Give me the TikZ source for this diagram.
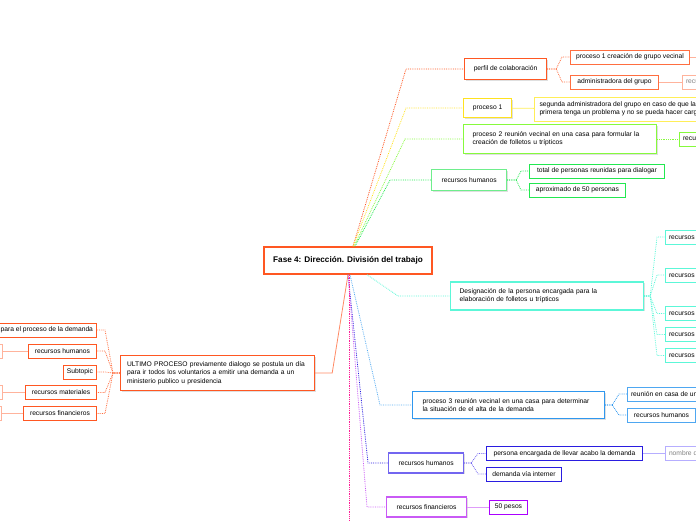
\documentclass[tikz,border=0pt]{standalone}
\usepackage{fontspec}
\setmainfont{Liberation Sans}
\usetikzlibrary{shadows}
\definecolor{faseorange}{HTML}{FF5722}
\definecolor{orangemid}{HTML}{FF6E40}
\definecolor{orangesoft}{HTML}{FF8A65}
\definecolor{orangepale}{HTML}{FFB39C}
\definecolor{procyellow}{HTML}{FFE21F}
\definecolor{yellowpale}{HTML}{FFEE58}
\definecolor{limegreen}{HTML}{86FA3C}
\definecolor{mintgreen}{HTML}{6EEE8C}
\definecolor{brightgreen}{HTML}{22E850}
\definecolor{aqua}{HTML}{5CF7D8}
\definecolor{skyblue}{HTML}{2F97EE}
\definecolor{indigo}{HTML}{7366F0}
\definecolor{deepblue}{HTML}{2A1DE0}
\definecolor{lavender}{HTML}{B6AEFF}
\definecolor{violet}{HTML}{C95AF5}
\definecolor{purpleb}{HTML}{AA00FF}
\definecolor{hotpink}{HTML}{FF1E96}

\begin{document}
\begin{tikzpicture}[x=1pt, y=-1pt,
  topic/.style={draw, fill=white, line width=1.2pt, inner xsep=7pt, inner ysep=2pt, align=left,
    font=\fontsize{6.7}{8.3}\selectfont, drop shadow={shadow xshift=1pt, shadow yshift=-1pt, opacity=0.25}},
  subtopic/.style={draw, fill=white, line width=1pt, inner xsep=3.5pt, inner ysep=2pt, align=left,
    minimum height=14pt, font=\fontsize{6.7}{8.3}\selectfont},
  link/.style={densely dotted, line width=0.8pt},
  plainlink/.style={line width=0.8pt}]

\useasboundingbox (0,0) rectangle (696,520);

% centre
\node[topic, line width=1.4pt, draw=faseorange, align=center, minimum width=168pt, minimum height=27pt,
  font=\bfseries\fontsize{8.2}{10}\selectfont] (fase) at (348,260.5) {Fase 4: Dirección. División del trabajo};

% perfil de colaboracion
\node[topic, draw=faseorange, anchor=west, minimum width=82pt, minimum height=21pt] (perfil) at (464,69) {perfil de colaboración};
\node[subtopic, draw=orangemid, anchor=west, minimum width=119pt] (grupo) at (570,57) {proceso 1 creación de grupo vecinal};
\node[subtopic, draw=orangemid, anchor=west, minimum width=88pt] (admin) at (570,82) {administradora del grupo};
\node[subtopic, draw=orangepale, text=gray, anchor=west] (admrec) at (682,82) {recursos};
\coordinate (grupoend) at (712,57);
\draw[link, faseorange] ([xshift=5pt]fase.north) -- ([xshift=-58pt]perfil.west) -- (perfil.west);
\draw[link, orangemid] (perfil.east) -- ++(9,0) -- ([xshift=-8pt]grupo.west) -- (grupo.west);
\draw[link, orangemid] (perfil.east) -- ++(9,0) -- ([xshift=-8pt]admin.west) -- (admin.west);
\draw[plainlink, orangepale] (admin) -- (admrec);
\draw[plainlink, orangepale] (grupo) -- (grupoend);

% proceso 1
\node[topic, draw=procyellow, anchor=west, minimum width=48pt, minimum height=19pt] (proc1) at (463,108) {proceso 1};
\node[subtopic, draw=yellowpale, anchor=west, minimum height=24pt, inner xsep=5pt] (segunda) at (534,109)
  {segunda administradora del grupo en caso de que la\\primera tenga un problema y no se pueda hacer cargo};
\draw[link, procyellow] ([xshift=5pt]fase.north) -- ([xshift=-57pt]proc1.west) -- (proc1.west);
\draw[plainlink, yellowpale] (proc1) -- (segunda);

% proceso 2
\node[topic, draw=limegreen, anchor=west, text width=175pt, inner xsep=9pt, minimum height=29pt] (proc2) at (463,139)
  {proceso 2 reunión vecinal en una casa para formular la\\creación de folletos u trípticos};
\node[subtopic, draw=limegreen, anchor=west] (proc2rec) at (679,139) {recursos};
\draw[link, limegreen] ([xshift=6pt]fase.north) -- ([xshift=-58pt]proc2.west) -- (proc2.west);
\draw[link, limegreen] (proc2) -- (proc2rec);

% recursos humanos (grupo)
\node[topic, draw=mintgreen, anchor=west, minimum width=75pt, minimum height=21pt] (rhgrupo) at (431,180) {recursos humanos};
\node[subtopic, draw=brightgreen, anchor=west, minimum width=135pt] (total) at (529,171) {total de personas reunidas para dialogar};
\node[subtopic, draw=brightgreen, anchor=west, minimum width=96pt] (aprox) at (529,190) {aproximado de 50 personas};
\draw[link, brightgreen] ([xshift=7pt]fase.north) -- ([xshift=-41pt]rhgrupo.west) -- (rhgrupo.west);
\draw[link, brightgreen] (rhgrupo.east) -- ++(9,0) -- ([xshift=-8pt]total.west) -- (total.west);
\draw[link, brightgreen] (rhgrupo.east) -- ++(9,0) -- ([xshift=-8pt]aprox.west) -- (aprox.west);

% designacion
\node[topic, draw=aqua, anchor=west, text width=175pt, inner xsep=9pt, minimum height=28pt] (designa) at (450,296)
  {Designación de la persona encargada para la\\elaboración de folletos u trípticos};
\foreach \y/\name/\txt in {237/drh/recursos humanos, 275/drm/recursos materiales, 313.5/drf/recursos financieros,
  334.5/drt/recursos técnicos, 355.5/dro/recursos otros}{
  \node[subtopic, draw=aqua, anchor=west] (\name) at (665,\y) {\txt};
  \draw[link, aqua] (designa.east) -- ++(6,0) -- ([xshift=-8pt]\name.west) -- (\name.west);
}
\draw[link, aqua] ([xshift=19pt]fase.south) -- ([xshift=-52pt]designa.west) -- (designa.west);

% proceso 3
\node[topic, draw=skyblue, anchor=west, text width=172pt, inner xsep=10pt, minimum height=27pt] (proc3) at (412,405)
  {proceso 3 reunión vecinal en una casa para determinar\\la situación de el alta de la demanda};
\node[subtopic, draw=skyblue!85, anchor=west] (reunion) at (627,394) {reunión en casa de un vecino};
\node[subtopic, draw=skyblue!85, anchor=west, minimum width=68pt] (rhreunion) at (627,415) {recursos humanos};
\draw[link, skyblue!80] ([xshift=2pt]fase.south) -- ([xshift=-32pt]proc3.west) -- (proc3.west);
\draw[link, skyblue] (proc3.east) -- ++(7,0) -- ([xshift=-8pt]reunion.west) -- (reunion.west);
\draw[link, skyblue] (proc3.east) -- ++(7,0) -- ([xshift=-8pt]rhreunion.west) -- (rhreunion.west);

% recursos humanos (demanda)
\node[topic, draw=indigo, anchor=west, minimum width=75pt, minimum height=20pt] (rhdemanda) at (388,463) {recursos humanos};
\node[subtopic, draw=deepblue, anchor=west, minimum width=156pt] (encargada) at (486,453.5) {persona encargada de llevar acabo la demanda};
\node[subtopic, draw=deepblue, anchor=west, minimum width=75pt] (internet) at (486,474) {demanda vía interner};
\node[subtopic, draw=lavender, text=gray, anchor=west] (nombre) at (665,453.5) {nombre de la persona};
\draw[link, deepblue] (fase.south) -- ([xshift=-20pt]rhdemanda.west) -- (rhdemanda.west);
\draw[link, indigo] (rhdemanda.east) -- ++(7,0) -- ([xshift=-8pt]encargada.west) -- (encargada.west);
\draw[link, indigo] (rhdemanda.east) -- ++(7,0) -- ([xshift=-8pt]internet.west) -- (internet.west);
\draw[plainlink, lavender] (encargada) -- (nombre);

% recursos financieros (demanda)
\node[topic, draw=violet, anchor=west, minimum width=80pt, minimum height=20pt] (rfdemanda) at (386,507) {recursos financieros};
\node[subtopic, draw=purpleb, anchor=west, minimum width=38pt] (pesos) at (489,507) {50 pesos};
\draw[link, violet] (fase.south) -- ([xshift=-19pt]rfdemanda.west) -- (rfdemanda.west);
\draw[plainlink, violet!60] (rfdemanda) -- (pesos);

% rama sin mostrar
\coordinate (pinkend) at (349,530);
\draw[link, hotpink] ([xshift=1pt]fase.south) -- (pinkend);

% ultimo proceso
\node[topic, draw=faseorange, anchor=west, text width=181pt, inner xsep=6.5pt, minimum height=35pt] (ultimo) at (120,373)
  {ULTIMO PROCESO previamente dialogo se postula un día\\para ir todos los voluntarios a emitir una demanda a un\\ministerio publico u presidencia};
\draw[plainlink, orangesoft] (fase.south) -- ([xshift=17pt]ultimo.east) -- (ultimo.east);
\node[subtopic, draw=faseorange, anchor=east] (encargo) at (97,330) {persona encargada para el proceso de la demanda};
\node[subtopic, draw=faseorange, anchor=east, minimum width=68pt] (rhultimo) at (97,351) {recursos humanos};
\node[subtopic, draw=faseorange, anchor=east] (subt) at (97,372) {Subtopic};
\node[subtopic, draw=faseorange, anchor=east, minimum width=71pt] (rmultimo) at (97,392.5) {recursos materiales};
\node[subtopic, draw=faseorange, anchor=east, minimum width=73pt] (rfultimo) at (97,413.5) {recursos financieros};
\foreach \name in {encargo, rhultimo, subt, rmultimo, rfultimo}
  \draw[link, orangemid] (ultimo.west) -- ++(-7,0) -- ([xshift=8pt]\name.east) -- (\name.east);
\node[subtopic, draw=orangepale, anchor=east] (rhfar) at (3,351) {voluntarios};
\node[subtopic, draw=orangepale, anchor=east] (rmfar) at (3,392.5) {folletos};
\node[subtopic, draw=orangepale, anchor=east] (rffar) at (2,413.5) {pasajes};
\draw[plainlink, orangepale] (rhultimo) -- (rhfar);
\draw[plainlink, orangepale] (rmultimo) -- (rmfar);
\draw[plainlink, orangepale] (rfultimo) -- (rffar);
\end{tikzpicture}
\end{document}
